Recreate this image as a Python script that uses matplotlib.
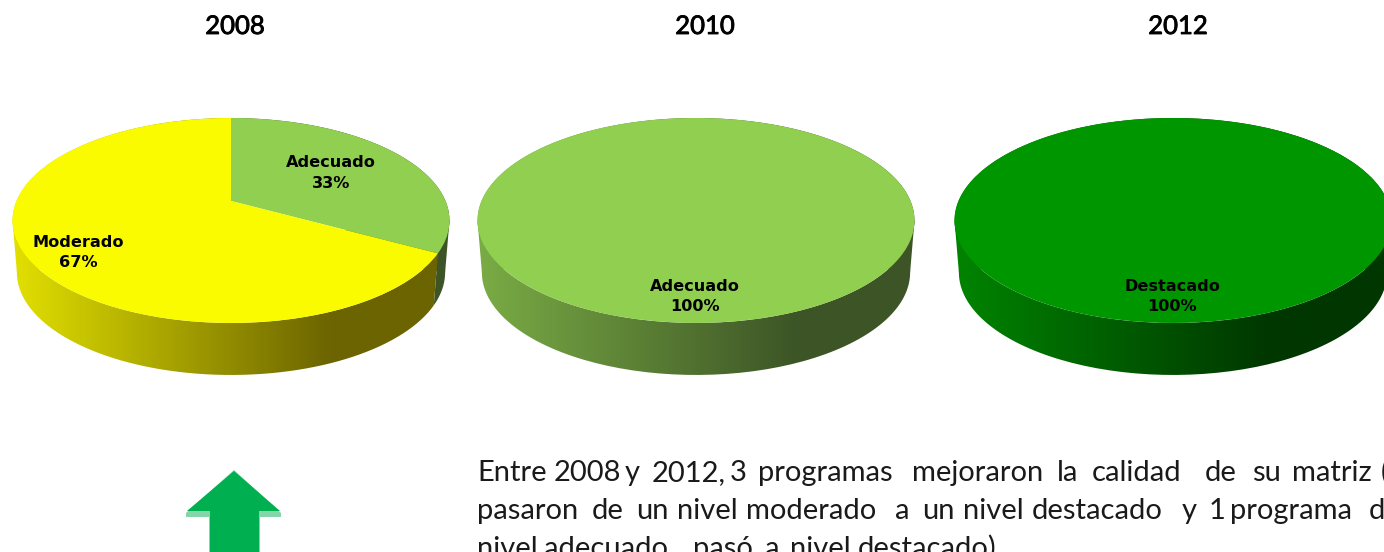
import numpy as np
import matplotlib
matplotlib.use("Agg")
import matplotlib.pyplot as plt
import matplotlib.patheffects as pe
from matplotlib.path import Path
from matplotlib.patches import PathPatch, Polygon
from matplotlib.transforms import Transform
from matplotlib.colors import LinearSegmentedColormap

years = ["2008", "2010", "2012"]
pie_values = [[33, 67], [100], [100]]
pie_labels = [["Adecuado", "Moderado"], ["Adecuado"], ["Destacado"]]
pie_colors = [["#90CF50", "#FBFB00"], ["#90CF50"], ["#009600"]]

FONT = "Lato"
W, H = 1384, 552
CENTERS = [231, 696, 1173]
TITLE_X = [235, 705, 1178]
LABEL_POS = [[(331, 173), (78, 252.5)], [(695, 296.5)], [(1172, 296.5)]]
WALL = {"#90CF50": ("#7AAC45", "#3D5526"),
        "#FBFB00": ("#E2E000", "#6B6400"),
        "#009600": ("#008400", "#003600")}

PERSP, SLOPE, APEX_Y, HALF_W, DEPTH = 0.19, -60.6, 201.0, 214.5, 52.0
SILHOUETTE = (-11.0, -169.0)


class TiltedDisc(Transform):
    """Projects the unit circle of a pie on to a tilted disc, in pixels."""
    input_dims = output_dims = 2
    is_affine = False
    has_inverse = False

    def __init__(self, cx, shrink=1.0, drop=0.0):
        super().__init__()
        self.cx, self.shrink, self.drop = cx, shrink, drop

    def transform_non_affine(self, pts):
        pts = np.asarray(pts, dtype=float)
        u, v = pts[:, 0], pts[:, 1]
        d = 1 + PERSP * v
        x = self.cx + self.shrink * HALF_W * u / d
        y = (SLOPE * v + APEX_Y) / d + self.drop
        return np.column_stack([x, y])


def unit(deg):
    t = np.radians(np.atleast_1d(deg))
    return np.column_stack([np.cos(t), np.sin(t)])


fig = plt.figure(figsize=(W / 100, H / 100), dpi=100, facecolor="white")
ax = fig.add_axes([0, 0, 1, 1])

for cx, year_vals, labs, cols, tx, lpos, year in zip(
        CENTERS, pie_values, pie_labels, pie_colors, TITLE_X, LABEL_POS, years):
    wedges, _ = ax.pie(year_vals, colors=cols, startangle=90, counterclock=False,
                       radius=1, wedgeprops={"linewidth": 0})
    top = TiltedDisc(cx)
    low = TiltedDisc(cx, shrink=0.98, drop=DEPTH)
    for w, col in zip(wedges, cols):
        w.set_transform(top + ax.transData)
        w.set_zorder(5)
        ring = unit(np.linspace(w.theta1, w.theta2, 240))
        polys = [np.vstack([top.transform(ring), low.transform(ring[::-1])])]
        for s in SILHOUETTE:
            if any(w.theta1 <= a <= w.theta2 for a in (s, s + 360, s - 360)):
                polys.append(np.vstack([top.transform(unit(s)), low.transform(unit(s)),
                                        [[cx, 240.0]]]))
        light, dark = WALL[col]
        cmap = LinearSegmentedColormap.from_list(
            "wall", [(0, light), (0.73, dark), (1, dark)])
        for poly in polys:
            im = ax.imshow(np.linspace(0, 1, 256)[None, :], cmap=cmap, aspect="auto",
                           extent=(cx - 219, cx + 219, 380, 100), zorder=2,
                           interpolation="bilinear")
            im.set_clip_path(PathPatch(Path(poly), transform=ax.transData))
    ax.text(tx, 34, year, ha="center", va="baseline", fontsize=18.5, family=FONT,
            color="black", zorder=8,
            path_effects=[pe.withStroke(linewidth=0.6, foreground="black")])
    for lab, val, (lx, ly) in zip(labs, year_vals, lpos):
        ax.text(lx, ly, f"{lab}\n{val}%", ha="center", va="center", fontsize=11.6,
                family="DejaVu Sans", fontweight="bold", color="black",
                linespacing=1.42, zorder=8)

# arrow
ax.add_patch(Polygon([(234, 470), (281, 513), (281, 517), (260, 517), (260, 552),
                      (209, 552), (209, 517), (186, 517), (186, 513)],
                     closed=True, fc="#84D6A8", ec="none", zorder=4))
ax.add_patch(Polygon([(234, 471), (280, 511), (259, 511), (259, 552),
                      (210, 552), (210, 511), (187, 511)],
                     closed=True, fc="#00B050", ec="none", zorder=5))

# paragraph, placed word by word because it is justified
line_1 = [("Entre", 477), ("2008", 554), ("y", 625), ("2012,", 652), ("3", 730),
          ("programas", 758), ("mejoraron", 912), ("la", 1057), ("calidad", 1092),
          ("de", 1205), ("su", 1252), ("matriz", 1292), ("(", 1381)]
line_2 = [("pasaron", 477), ("de", 592), ("un", 636), ("nivel", 677), ("moderado", 746),
          ("a", 895), ("un", 922), ("nivel", 963), ("destacado", 1032), ("y", 1182),
          ("1", 1209), ("programa", 1230), ("de", 1369)]
line_3 = [("nivel", 477), ("adecuado", 544), ("pasó", 693), ("a", 765), ("nivel", 790),
          ("destacado).", 858)]
for y, line in zip((481, 519, 557), (line_1, line_2, line_3)):
    for word, x in line:
        ax.text(x, y, word, ha="left", va="baseline", fontsize=21, family=FONT,
                color="#1a1a1a", zorder=8)

ax.set_aspect("auto")
ax.set_xlim(0, W)
ax.set_ylim(H, 0)
ax.axis("off")
fig.savefig("out.png", dpi=100, facecolor="white")
